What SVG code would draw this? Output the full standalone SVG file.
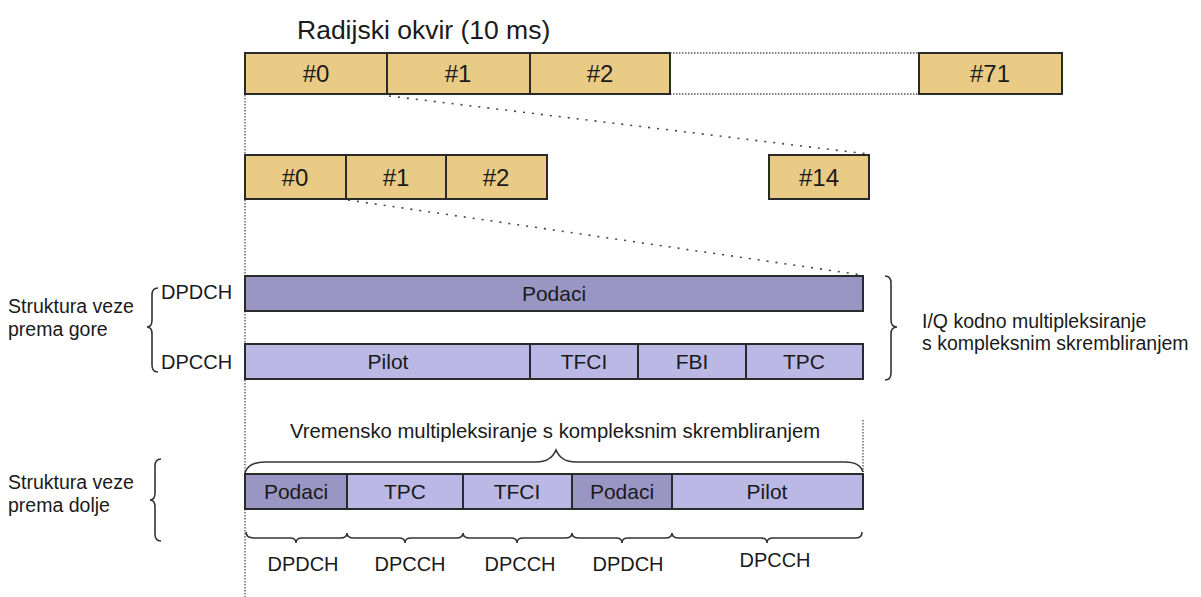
<svg xmlns="http://www.w3.org/2000/svg" width="1201" height="597" viewBox="0 0 1201 597">
<style>
text{font-family:"Liberation Sans",Arial,sans-serif;fill:#1a1a1a}
.slot{fill:#EACB86;stroke:#2a2a2a;stroke-width:2}
.dk{fill:#9A96C4;stroke:#2a2a2a;stroke-width:2}
.lt{fill:#BBB8E6;stroke:#2a2a2a;stroke-width:2}
.bl{font-size:24px;text-anchor:middle}
.fl{font-size:21px;text-anchor:middle}
.lab{font-size:20px}
.side{font-size:19.5px}
.wide{font-size:20.3px}
.dot{fill:none;stroke:#555;stroke-width:1.3;stroke-dasharray:1.5 1.5}
.sparse{fill:none;stroke:#444;stroke-width:1.6;stroke-dasharray:2 7}
.brace{fill:none;stroke:#333;stroke-width:1.6}
</style>
<rect width="1201" height="597" fill="#fff"/>
<g id="title"><text x="297" y="39" font-size="26.5">Radijski okvir (10 ms)</text></g>
<g id="connectors">
<line class="dot" x1="245" y1="95" x2="245" y2="597"/>
<line class="dot" x1="670" y1="53" x2="919" y2="53"/>
<line class="dot" x1="670" y1="94" x2="919" y2="94"/>
<line class="sparse" x1="389" y1="96" x2="868" y2="154"/>
<line class="sparse" x1="348" y1="200" x2="862" y2="275"/>
<line class="dot" x1="863" y1="420" x2="863" y2="472"/>
</g>
<g id="frame">
<g id="f0"><rect class="slot" x="245" y="53" width="142" height="41"/><text class="bl" x="316" y="82">#0</text></g>
<g id="f1"><rect class="slot" x="387" y="53" width="143" height="41"/><text class="bl" x="458" y="82">#1</text></g>
<g id="f2"><rect class="slot" x="530" y="53" width="140" height="41"/><text class="bl" x="600" y="82">#2</text></g>
<g id="f71"><rect class="slot" x="919" y="53" width="143" height="41"/><text class="bl" x="990" y="82">#71</text></g>
</g>
<g id="slots">
<g id="s0"><rect class="slot" x="245" y="155" width="101" height="44"/><text class="bl" x="295" y="186">#0</text></g>
<g id="s1"><rect class="slot" x="346" y="155" width="100" height="44"/><text class="bl" x="396" y="186">#1</text></g>
<g id="s2"><rect class="slot" x="446" y="155" width="101" height="44"/><text class="bl" x="496" y="186">#2</text></g>
<g id="s14"><rect class="slot" x="769" y="155" width="100" height="44"/><text class="bl" x="819" y="186">#14</text></g>
</g>
<g id="uplink">
<g id="up-label"><text class="side" x="8" y="313">Struktura veze</text><text class="side" x="8" y="336">prema gore</text>
<path class="brace" d="M158,288 Q152,288 152,295 L152,320 Q152,327 147,327 Q152,327 152,334 L152,365 Q152,372 158,372"/></g>
<g id="dpdch-up"><text class="lab" x="161" y="299">DPDCH</text><rect class="dk" x="245" y="276" width="618" height="35"/><text class="fl" x="554" y="301">Podaci</text></g>
<g id="dpcch-up"><text class="lab" x="161" y="369">DPCCH</text>
<rect class="lt" x="245" y="344" width="285" height="35"/><text class="fl" x="388" y="369">Pilot</text>
<rect class="lt" x="530" y="344" width="108" height="35"/><text class="fl" x="584" y="369">TFCI</text>
<rect class="lt" x="638" y="344" width="108" height="35"/><text class="fl" x="692" y="369">FBI</text>
<rect class="lt" x="746" y="344" width="117" height="35"/><text class="fl" x="804" y="369">TPC</text></g>
<g id="iq"><path class="brace" d="M885,276 Q891,276 891,283 L891,320 Q891,327 897,327 Q891,327 891,334 L891,373 Q891,380 885,380"/>
<text class="side" x="922" y="328">I/Q kodno multipleksiranje</text>
<text class="side" x="922" y="350">s kompleksnim skrembliranjem</text></g>
</g>
<g id="downlink">
<g id="down-label"><text class="side" x="8" y="489">Struktura veze</text><text class="side" x="8" y="512">prema dolje</text>
<path class="brace" d="M161,459 Q155,459 155,466 L155,493 Q155,500 150,500 Q155,500 155,507 L155,534 Q155,541 161,541"/></g>
<g id="tdm"><text class="wide" x="290" y="438">Vremensko multipleksiranje s kompleksnim skrembliranjem</text>
<path class="brace" d="M245,473 Q248,462 265,462 L536,462 Q551,462 556,450 Q561,462 576,462 L845,462 Q860,462 863,472"/></g>
<g id="dbar">
<rect class="dk" x="245" y="474" width="102" height="35"/><text class="fl" x="296" y="499">Podaci</text>
<rect class="lt" x="347" y="474" width="116" height="35"/><text class="fl" x="405" y="499">TPC</text>
<rect class="lt" x="463" y="474" width="109" height="35"/><text class="fl" x="517" y="499">TFCI</text>
<rect class="dk" x="572" y="474" width="100" height="35"/><text class="fl" x="622" y="499">Podaci</text>
<rect class="lt" x="672" y="474" width="191" height="35"/><text class="fl" x="767" y="499">Pilot</text>
</g>
<g id="dlabels">
<path class="brace" d="M246,532 Q246,538 254,538 L290,538 Q296,538 296,543 Q296,538 302,538 L340,538 Q347,538 347,533 Q347,538 354,538 L399,538 Q405,538 405,543 Q405,538 411,538 L456,538 Q463,538 463,533 Q463,538 470,538 L511,538 Q517,538 517,543 Q517,538 523,538 L565,538 Q572,538 572,533 Q572,538 579,538 L616,538 Q622,538 622,543 Q622,538 628,538 L665,538 Q672,538 672,533 Q672,538 679,538 L761,538 Q767,538 767,543 Q767,538 773,538 L856,538 Q862,538 862,532"/>
<text class="lab" x="303" y="571" text-anchor="middle">DPDCH</text>
<text class="lab" x="410" y="571" text-anchor="middle">DPCCH</text>
<text class="lab" x="520" y="571" text-anchor="middle">DPCCH</text>
<text class="lab" x="628" y="571" text-anchor="middle">DPDCH</text>
<text class="lab" x="775" y="567" text-anchor="middle">DPCCH</text>
</g>
</g>
</svg>
